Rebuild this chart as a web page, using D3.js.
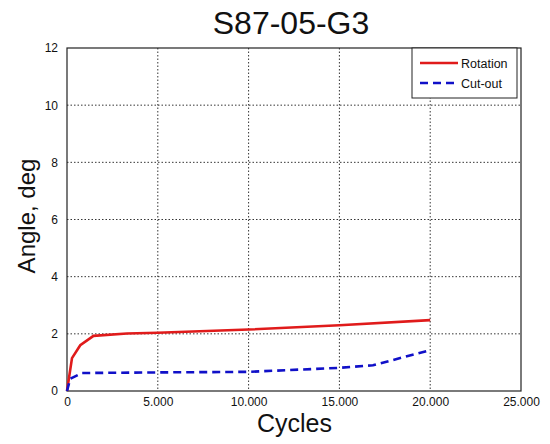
<!DOCTYPE html>
<html><head><meta charset="utf-8">
<script src="https://cdn.jsdelivr.net/npm/d3@7"></script>
<style>body{margin:0;background:#fff;} svg{display:block;font-family:"Liberation Sans",Arial,Helvetica,sans-serif;}</style>
</head><body><svg id="c" width="550" height="444"></svg>
<script>
const rotationX = [0, 275, 730, 1460, 3300, 5000, 10000, 15000, 20000];
const rotationY = [0, 1.15, 1.6, 1.93, 2.01, 2.04, 2.15, 2.3, 2.48];
const cutoutX = [0, 180, 820, 5000, 10000, 15000, 16850, 20000];
const cutoutY = [0, 0.43, 0.63, 0.65, 0.67, 0.81, 0.9, 1.43];
const xTicks = [0, 5000, 10000, 15000, 20000, 25000];
const yTicks = [0, 2, 4, 6, 8, 10, 12];
const seriesNames = ["Rotation", "Cut-out"];

const svg = d3.select("#c");
const L = 67, R = 521, T = 48, B = 391;
const x = d3.scaleLinear().domain([0, 25000]).range([L, R]);
const y = d3.scaleLinear().domain([0, 12]).range([B, T]);
const loc = d3.formatLocale({decimal: ",", thousands: ".", grouping: [3], currency: ["", ""]});
const fx = loc.format(",");

// grid
svg.append("g").selectAll("line").data(xTicks.filter(d => d > 0 && d < 25000)).join("line")
  .attr("x1", d => x(d)).attr("x2", d => x(d)).attr("y1", T).attr("y2", B)
  .attr("stroke", "#000").attr("stroke-width", 0.8).attr("stroke-dasharray", "1.5,2");
svg.append("g").selectAll("line").data(yTicks.filter(d => d > 0 && d < 12)).join("line")
  .attr("x1", L).attr("x2", R).attr("y1", d => y(d)).attr("y2", d => y(d))
  .attr("stroke", "#000").attr("stroke-width", 0.8).attr("stroke-dasharray", "1.5,2");

// frame
svg.append("rect").attr("x", L).attr("y", T).attr("width", R - L).attr("height", B - T)
  .attr("fill", "none").attr("stroke", "#222").attr("stroke-width", 1.2);

// tick labels via axes
const xa = svg.append("g").attr("transform", `translate(0,${B})`)
  .call(d3.axisBottom(x).tickValues(xTicks).tickFormat(fx).tickSize(0).tickPadding(6));
xa.select(".domain").remove();
xa.selectAll("text").attr("font-size", 12).attr("fill", "#111").attr("font-family", "Liberation Sans, Arial, sans-serif");
const ya = svg.append("g").attr("transform", `translate(${L},0)`)
  .call(d3.axisLeft(y).tickValues(yTicks).tickFormat(d3.format("d")).tickSize(0).tickPadding(9));
ya.select(".domain").remove();
ya.selectAll("text").attr("font-size", 12).attr("fill", "#111").attr("font-family", "Liberation Sans, Arial, sans-serif");

// lines
const line = d3.line().x(d => x(d[0])).y(d => y(d[1]));
svg.append("path").datum(rotationX.map((v, i) => [v, rotationY[i]]))
  .attr("d", line).attr("fill", "none").attr("stroke", "#e01b1b").attr("stroke-width", 2.6);
svg.append("path").datum(cutoutX.map((v, i) => [v, cutoutY[i]]))
  .attr("d", line).attr("fill", "none").attr("stroke", "#1010c8").attr("stroke-width", 2.6)
  .attr("stroke-dasharray", "8,5");

// title & labels
svg.append("text").attr("x", 291).attr("y", 34).attr("text-anchor", "middle")
  .attr("font-size", 32).attr("fill", "#111").text("S87-05-G3");
svg.append("text").attr("x", 294.5).attr("y", 432).attr("text-anchor", "middle")
  .attr("font-size", 25).attr("fill", "#111").text("Cycles");
svg.append("text").attr("transform", "translate(35,216) rotate(-90)").attr("text-anchor", "middle")
  .attr("font-size", 24).attr("fill", "#111").text("Angle, deg");

// legend
const lg = svg.append("g");
lg.append("rect").attr("x", 412).attr("y", 48).attr("width", 105).attr("height", 50)
  .attr("fill", "#fff").attr("stroke", "#222").attr("stroke-width", 1);
const cols = ["#e01b1b", "#1010c8"];
const dashes = [null, "8,5"];
seriesNames.forEach((n, i) => {
  const yy = 63 + i * 20;
  lg.append("line").attr("x1", 420).attr("x2", 458).attr("y1", yy).attr("y2", yy)
    .attr("stroke", cols[i]).attr("stroke-width", 2.6).attr("stroke-dasharray", dashes[i]);
  lg.append("text").attr("x", 461).attr("y", yy + 4.5).attr("font-size", 12.5).attr("fill", "#111").text(n);
});
</script></body></html>
